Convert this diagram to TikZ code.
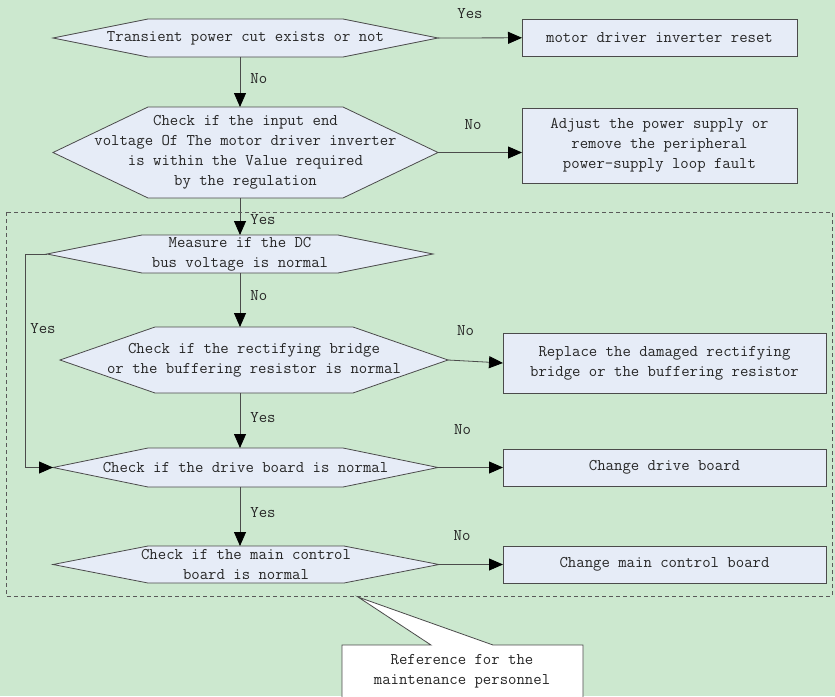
\documentclass[tikz,border=0pt]{standalone}
\usepackage{fontspec}
\usetikzlibrary{arrows.meta}
\usetikzlibrary{positioning}
\usetikzlibrary{calc}

\definecolor{bggreen}{RGB}{204,232,207}
\definecolor{boxblue}{RGB}{230,236,247}
\definecolor{linegray}{RGB}{75,75,75}

\tikzstyle{decision}=[rectangle,draw=none,outer sep=0pt,inner sep=0pt,align=center,font=\fontsize{16.3}{20}\ttfamily,text=black!85]
\tikzstyle{action}=[rectangle,draw=linegray,fill=boxblue,line width=0.8pt,outer sep=0pt,inner sep=0pt,align=center,font=\fontsize{16.3}{20}\ttfamily,text=black!85]
\tikzstyle{hexa}=[draw=linegray,fill=boxblue,line width=0.8pt]
\tikzstyle{edge}=[draw=linegray,line width=0.8pt,-{Triangle[length=14pt,width=12pt,color=black]}]
\tikzstyle{answer}=[font=\fontsize{16.3}{20}\ttfamily,text=black!85,inner sep=0pt,align=center]
\tikzstyle{frame}=[draw=black!65,line width=0.8pt,dash pattern=on 4pt off 3pt]
\tikzstyle{note}=[draw=linegray,fill=white,line width=0.8pt]

\begin{document}
\begin{tikzpicture}[x=1pt,y=-1pt]

    % Page background
    \fill[bggreen] (0,0) rectangle (835,696);
    \useasboundingbox (0,0) rectangle (835,696);

    % First we draw the decisions: hexagon, then its text node on top
    \foreach \x/\y/\name/\w/\h/\txt in {
        245.5/38/hex1/385/38/{Transient power cut exists or not},
        245.5/152.5/hex2/385/91/{Check if the input end\\voltage Of The motor driver inverter\\is within the Value required\\by the regulation},
        240/254/hex3/386/38/{Measure if the DC\\bus voltage is normal},
        254/360/hex4/388/66/{Check if the rectifying bridge\\or the buffering resistor is normal},
        245.5/467.5/hex5/385/39/{Check if the drive board is normal},
        246/564.5/hex6/386/37/{Check if the main control\\board is normal}}
    {
        \path[hexa] (\x-\w/2,\y) -- ++(95,-\h/2) -- ++(\w-190,0) -- (\x+\w/2,\y)
            -- ++(-95,\h/2) -- ++(-\w+190,0) -- cycle;
        \node[decision, minimum width=\w pt, minimum height=\h pt] (\name) at (\x,\y) {\txt};
    }

    % Then the actions on the right
    \foreach \pos/\name/\w/\h/\txt in {
        {(659.5,37.5)/box1/275/37/{motor driver inverter reset}},
        {(659.5,145.5)/box2/275/75/{Adjust the power supply or\\remove the peripheral\\power-supply loop fault}},
        {(664.5,363)/box4/323/60/{Replace the damaged rectifying\\bridge or the buffering resistor}},
        {(664.5,467.5)/box5/323/37/{Change drive board}},
        {(664.5,564.5)/box6/323/37/{Change main control board}}}
        \node[action, minimum width=\w pt, minimum height=\h pt] (\name) at \pos {\txt};

    % Main column of arrows
    \coordinate (spine) at (240,0);
    \foreach \source/\dest/\txt/\p in {hex1/hex2/No/0.44, hex2/hex3/Yes/0.59, hex3/hex4/No/0.41, hex4/hex5/Yes/0.44, hex5/hex6/Yes/0.44}
        \path[edge] (\source.south -| spine) -- node[answer, pos=\p, anchor=west, xshift=10pt] {\txt} (\dest.north -| spine);

    % Arrows to the actions
    \foreach \source/\dest/\txt/\dx/\dy in {hex1/box1/Yes/-10/24, hex2/hex2.east -| box2.west/No/-7/28, hex4/box4.west/No/-10/31, hex5/box5.west/No/-8/38, hex6/box6.west/No/-9/29}
        \path[edge] (\source.east) -- node[answer, pos=0.5, xshift=\dx pt, yshift=\dy pt] {\txt} (\dest);

    % Yes branch skipping the rectifier check
    \coordinate (loop) at (25,0);
    \path[edge] (hex3.west) -- (hex3.west -| loop) -- node[answer, pos=0.35, anchor=west, xshift=5pt] {Yes} (hex5.west -| loop) -- (hex5.west);

    % Dashed group and its callout
    \draw[frame] (6,212) rectangle (832,596);
    \coordinate (tip) at (358,597);
    \path[note] (342,645) -- (431,645) -- (tip) -- (493,645) -- (583,645) -- (583,712) -- (342,712) -- cycle;
    \node[answer] (ref) at (462,671.5) {Reference for the\\maintenance personnel};

\end{tikzpicture}
\end{document}
